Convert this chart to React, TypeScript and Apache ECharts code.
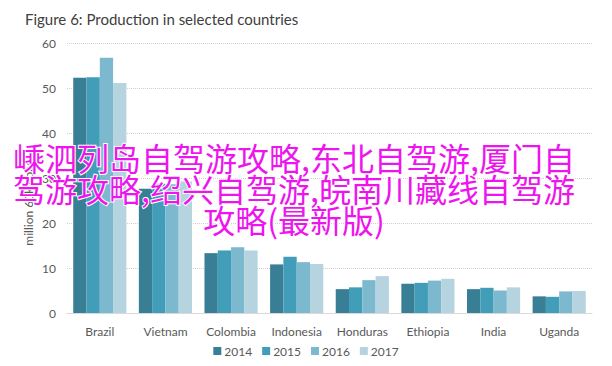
import React, { useEffect, useRef } from "react";
import * as echarts from "echarts";

const titleText = "Figure 6: Production in selected countries";
const yAxisTitle = "million 60kg bags";
const categories = ["Brazil", "Vietnam", "Colombia", "Indonesia", "Honduras", "Ethiopia", "India", "Uganda"];
const seriesNames = ["2014", "2015", "2016", "2017"];
const values2014 = [52.3, 27.6, 13.3, 10.8, 5.3, 6.5, 5.3, 3.7];
const values2015 = [52.4, 28.7, 13.9, 12.5, 5.7, 6.7, 5.6, 3.6];
const values2016 = [56.7, 28.6, 14.6, 11.3, 7.3, 7.2, 5.0, 4.8];
const values2017 = [51.1, 29.2, 13.9, 10.9, 8.2, 7.6, 5.7, 4.9];
const yTicks = { min: 0, max: 60, interval: 10 };
const overlayLines = [
  "嵊泗列岛自驾游攻略,东北自驾游,厦门自",
  "驾游攻略,绍兴自驾游,皖南川藏线自驾游",
  "攻略(最新版)",
];

const colors = ["#387f96", "#419db8", "#7cb9cf", "#b5d4df"];
const FONT = "Lato, 'Noto Sans', sans-serif";

export default function App() {
  const ref = useRef<HTMLDivElement>(null);
  useEffect(() => {
    if (!ref.current) return;
    const chart = echarts.init(ref.current, null, { renderer: "svg" });
    const allValues = [values2014, values2015, values2016, values2017];
    chart.setOption({
      animation: false,
      backgroundColor: "#ffffff",
      color: colors,
      textStyle: { fontFamily: FONT },
      title: {
        text: titleText,
        left: 20,
        top: 6,
        textStyle: { fontFamily: FONT, fontSize: 15, fontWeight: "normal", color: "#404040" },
      },
      grid: { left: 67, right: 20, top: 43, bottom: 53, containLabel: false },
      legend: {
        bottom: 4,
        left: "center",
        itemWidth: 8,
        itemHeight: 8,
        itemGap: 10,
        icon: "rect",
        textStyle: { fontFamily: FONT, fontSize: 12, color: "#595959", padding: [0, 0, 0, -2] },
        data: seriesNames,
      },
      xAxis: {
        type: "category",
        data: categories,
        axisLine: { lineStyle: { color: "#d9d9d9", width: 1 } },
        axisTick: { show: false },
        axisLabel: { interval: 0, fontFamily: FONT, fontSize: 12, color: "#595959", margin: 12 },
      },
      yAxis: {
        type: "value",
        min: yTicks.min,
        max: yTicks.max,
        interval: yTicks.interval,
        axisLine: { show: false },
        axisTick: { show: false },
        axisLabel: { fontFamily: FONT, fontSize: 12, color: "#595959", margin: 11 },
        splitLine: { lineStyle: { color: "#d0d0d0", type: "dotted", width: 1 } },
      },
      series: seriesNames.map((name, i) => ({
        name,
        type: "bar",
        data: allValues[i],
        barGap: "0%",
        barCategoryGap: "19%",
        itemStyle: { color: colors[i] },
      })),
      graphic: [
        {
          type: "text",
          x: 28,
          y: 200,
          rotation: Math.PI / 2,
          style: {
            text: yAxisTitle,
            fontFamily: FONT,
            fontSize: 12,
            fill: "#595959",
            align: "center",
            verticalAlign: "middle",
          },
        },
        {
          type: "text",
          x: 294,
          y: 141,
          z: 100,
          style: {
            text: overlayLines.join("\n"),
            fontFamily: "'Noto Sans CJK SC', sans-serif",
            fontSize: 32,
            lineHeight: 31,
            fill: "#ee14ee",
            stroke: "#ffffff",
            lineWidth: 2,
            align: "center",
            verticalAlign: "top",
          },
        },
      ],
    });
    return () => chart.dispose();
  }, []);
  return <div ref={ref} style={{ width: 612, height: 366, position: "absolute", left: 0, top: 0 }} />;
}
